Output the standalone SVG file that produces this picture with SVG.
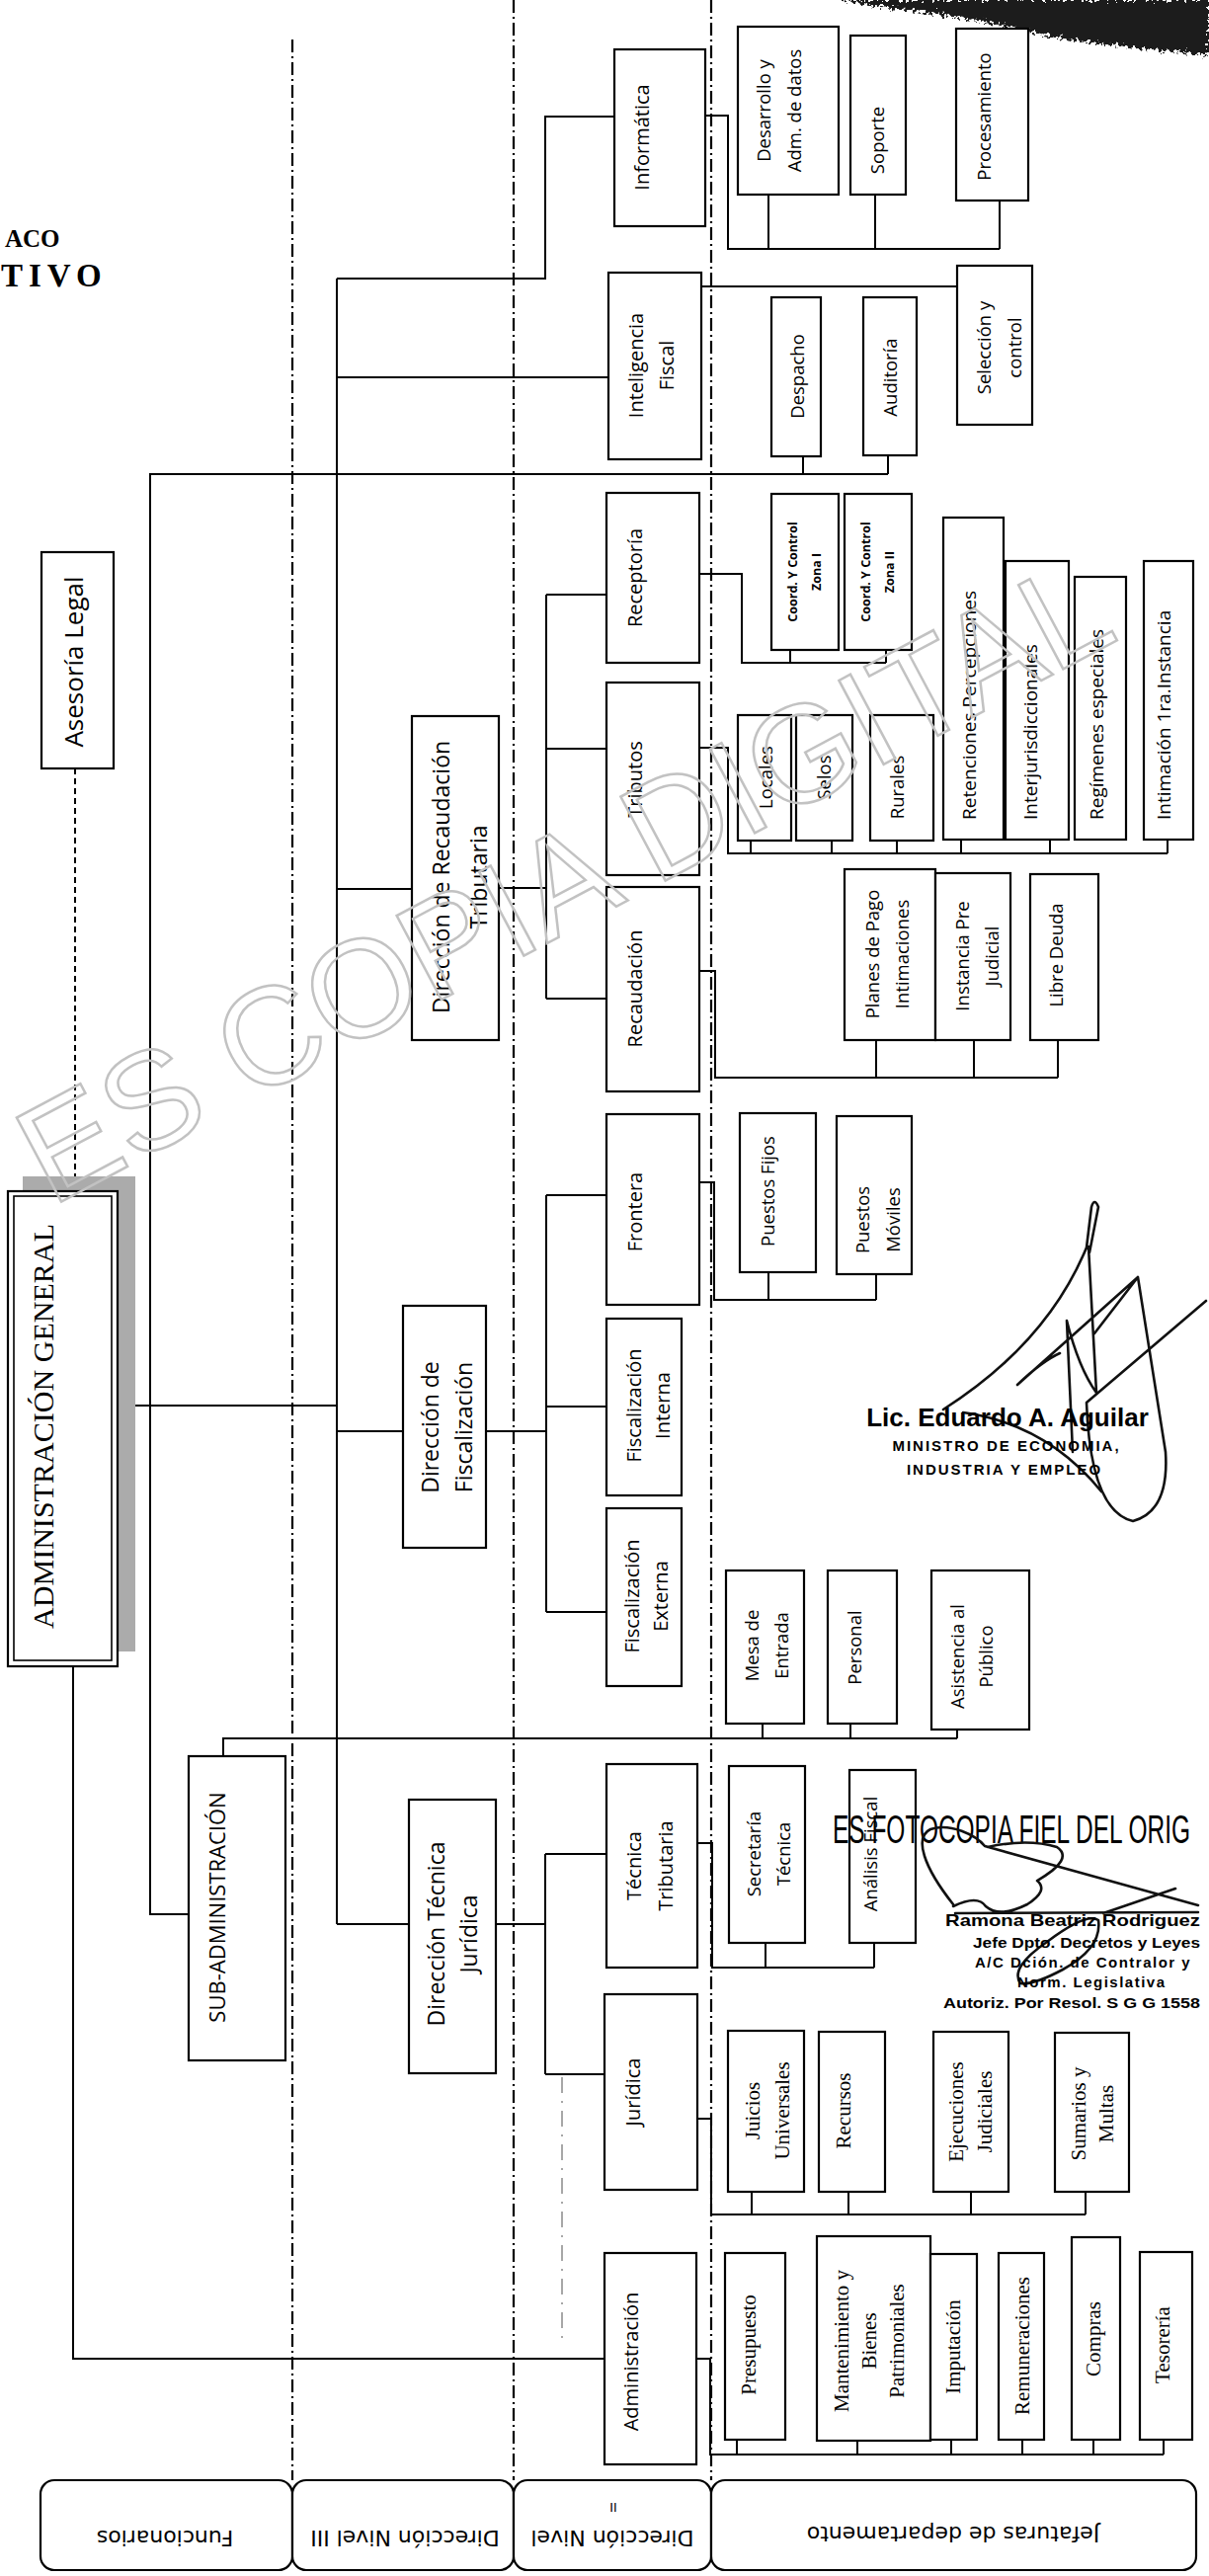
<svg xmlns="http://www.w3.org/2000/svg" width="1224" height="2608" viewBox="0 0 1224 2608">
<defs>
<style>
.b{fill:#fff;stroke:#000;stroke-width:2.2}
.c path{fill:none;stroke:#000;stroke-width:2}
.sep{fill:none;stroke:#000;stroke-width:2.2;stroke-dasharray:13 4 2 4}
.dash{stroke-dasharray:6 4}
.faint{stroke:#8a8a8a !important;stroke-width:1.5 !important;stroke-dasharray:16 8 2 8}
.s{font-family:'Open Sans',sans-serif;text-anchor:middle;dominant-baseline:central;fill:#000}
.f20{font-size:20px}
.f18{font-size:18.5px}
.f19{font-size:19px}
.f23{font-size:23px}
.co{font-size:12.5px;font-weight:bold}
.r{font-family:'Liberation Serif',serif;font-size:21px;text-anchor:middle;dominant-baseline:central;fill:#000}
.st{text-anchor:start}
.lab{font-family:'DejaVu Sans',sans-serif;font-size:22px;text-anchor:middle;dominant-baseline:central;fill:#000}
.sg{font-family:'Liberation Sans',Arial,sans-serif;font-weight:bold;fill:#000}
.sig{fill:none;stroke:#111;stroke-width:2.6;stroke-linecap:round;stroke-linejoin:round}
.wm{font-family:'Liberation Sans',Arial,sans-serif;font-size:140px;fill:none;stroke:#c2c2c2;stroke-width:2.5}
</style>
<filter id="grain" x="-10%" y="-10%" width="120%" height="140%">
<feTurbulence type="fractalNoise" baseFrequency="0.3" numOctaves="2" seed="4" result="n"/>
<feDisplacementMap in="SourceGraphic" in2="n" scale="14" xChannelSelector="R" yChannelSelector="G"/>
</filter>
</defs>
<rect width="1224" height="2608" fill="#fff"/>

<!-- scan noise top right -->
<path d="M850,0 L1224,0 L1224,56 C1190,52 1160,50 1125,45 C1090,41 1060,38 1035,30 C1000,22 960,15 910,9 C885,6 865,3 850,0 Z" fill="#1c1c1c" filter="url(#grain)"/>

<!-- title fragments -->
<text x="5" y="250" style="font-family:'Liberation Serif',serif;font-weight:bold;font-size:25px">ACO</text>
<text x="1" y="290" style="font-family:'Liberation Serif',serif;font-weight:bold;font-size:33px;letter-spacing:6px">TIVO</text>

<!-- level separators -->
<path class="sep" d="M296,40 V2511 M520,0 V2511 M720,0 V2511"/>

<g id="connectors" class="c">
<path class="dash" d="M76,778 V1191"/>
<path d="M119,1423 H341"/>
<path d="M341,282 V1948"/>
<path d="M341,282 H552 V118 H622"/>
<path d="M341,382 H616"/>
<path d="M341,900 H417 M505,899 H553"/>
<path d="M553,602 V1011 M553,602 H614 M553,758 H614 M553,1011 H614"/>
<path d="M341,1449 H408 M492,1449 H553"/>
<path d="M553,1210 V1632 M553,1210 H614 M553,1424 H614 M553,1632 H614"/>
<path d="M341,1948 H414 M502,1948 H552"/>
<path d="M552,1877 V2100 M552,1877 H614 M552,2100 H612"/>
<path d="M74,1687 V2388 H612"/>
<path d="M191,1938 H152 V480 H899 M813,480 V462 M899,480 V461"/>
<path d="M226,1778 V1760 H969 M772,1760 V1745 M861,1760 V1745 M969,1760 V1751"/>
<path d="M714,117 H737 V252 H1012 M778,252 V197 M886,252 V197 M1012,252 V203"/>
<path d="M710,290 H969"/>
<path d="M708,581 H751 V671 H897 M800,671 V658 M897,671 V658"/>
<path d="M708,757 H737 V864 H1182 M760,864 V851 M842,864 V851 M908,864 V851 M973,864 V850 M1063,864 V850 M1182,864 V850"/>
<path d="M708,983 H724 V1091 H1071 M887,1091 V1053 M986,1091 V1053 M1071,1091 V1053"/>
<path d="M708,1197 H723 V1316 H887 M778,1316 V1288 M887,1316 V1290"/>
<path d="M706,1866 H721 V1992 H885 M775,1992 V1967 M885,1992 V1967"/>
<path d="M706,2145 H720 V2242 H1099 M761,2242 V2219 M859,2242 V2219 M983,2242 V2219 M1099,2242 V2219"/>
<path d="M705,2388 H719 V2485 H1178 M746,2485 V2470 M868,2485 V2471 M963,2485 V2470 M1035,2485 V2470 M1107,2485 V2470 M1178,2485 V2470"/>
<path class="faint" d="M569,2103 V2373"/>
</g>

<!-- Column 1 -->
<g id="n-admin-general">
<rect x="23" y="1191" width="114" height="481" fill="#ababab"/>
<rect class="b" x="8" y="1206" width="111" height="481" stroke-width="2"/>
<rect x="14" y="1211" width="99" height="470" fill="none" stroke="#000" stroke-width="1.6"/>
<text class="r" style="font-size:30px" textLength="410" lengthAdjust="spacingAndGlyphs" transform="translate(43,1444) rotate(-90)">ADMINISTRACIÓN GENERAL</text>
</g>
<g id="n-asesoria">
<rect class="b" x="42" y="559" width="73" height="219"/>
<text class="s" style="font-size:26px" transform="translate(74,670) rotate(-90)">Asesoría Legal</text>
</g>
<g id="n-subadmin">
<rect class="b" x="191" y="1778" width="98" height="308"/>
<text class="s" style="font-size:22px" transform="translate(219,1931) rotate(-90)">SUB-ADMINISTRACIÓN</text>
</g>

<!-- Column 2 -->
<g id="n-dir-recaudacion">
<rect class="b" x="417" y="725" width="88" height="328"/>
<text class="s f23" transform="translate(446,888) rotate(-90)"><tspan x="0" y="0">Dirección de Recaudación</tspan><tspan x="0" y="38">Tributaria</tspan></text>
</g>
<g id="n-dir-fiscalizacion">
<rect class="b" x="408" y="1322" width="84" height="245"/>
<text class="s f23" transform="translate(435,1445) rotate(-90)"><tspan x="0" y="0">Dirección de</tspan><tspan x="0" y="34">Fiscalización</tspan></text>
</g>
<g id="n-dir-tecnica">
<rect class="b" x="414" y="1822" width="88" height="277"/>
<text class="s f23" transform="translate(441,1958) rotate(-90)"><tspan x="0" y="0">Dirección Técnica</tspan><tspan x="0" y="33">Jurídica</tspan></text>
</g>

<!-- Column 3 -->
<g id="n-informatica"><rect class="b" x="622" y="50" width="92" height="179"/>
<text class="s f20" transform="translate(649,139) rotate(-90)">Informática</text></g>
<g id="n-inteligencia"><rect class="b" x="616" y="276" width="94" height="189"/>
<text class="s f20" transform="translate(643,370) rotate(-90)"><tspan x="0" y="0">Inteligencia</tspan><tspan x="0" y="31">Fiscal</tspan></text></g>
<g id="n-receptoria"><rect class="b" x="614" y="499" width="94" height="172"/>
<text class="s f20" transform="translate(642,585) rotate(-90)">Receptoría</text></g>
<g id="n-tributos"><rect class="b" x="614" y="691" width="94" height="195"/>
<text class="s f20" transform="translate(642,789) rotate(-90)">Tributos</text></g>
<g id="n-recaudacion"><rect class="b" x="614" y="898" width="94" height="207"/>
<text class="s f20" transform="translate(642,1001) rotate(-90)">Recaudación</text></g>
<g id="n-frontera"><rect class="b" x="614" y="1128" width="94" height="193"/>
<text class="s f20" transform="translate(642,1227) rotate(-90)">Frontera</text></g>
<g id="n-fisc-interna"><rect class="b" x="614" y="1335" width="76" height="179"/>
<text class="s f20" transform="translate(641,1423) rotate(-90)"><tspan x="0" y="0">Fiscalización</tspan><tspan x="0" y="29">Interna</tspan></text></g>
<g id="n-fisc-externa"><rect class="b" x="614" y="1527" width="76" height="180"/>
<text class="s f20" transform="translate(639,1616) rotate(-90)"><tspan x="0" y="0">Fiscalización</tspan><tspan x="0" y="29">Externa</tspan></text></g>
<g id="n-tecnica-tributaria"><rect class="b" x="614" y="1786" width="92" height="206"/>
<text class="s f20" transform="translate(641,1889) rotate(-90)"><tspan x="0" y="0">Técnica</tspan><tspan x="0" y="32">Tributaria</tspan></text></g>
<g id="n-juridica"><rect class="b" x="612" y="2019" width="94" height="198"/>
<text class="s f20" transform="translate(640,2118) rotate(-90)">Jurídica</text></g>
<g id="n-administracion"><rect class="b" x="612" y="2281" width="93" height="214"/>
<text class="s f20" transform="translate(638,2391) rotate(-90)">Administración</text></g>

<!-- Column 4 -->
<g id="n-desarrollo"><rect class="b" x="747" y="27" width="102" height="170"/>
<text class="s f18" transform="translate(772,112) rotate(-90)"><tspan x="0" y="0">Desarrollo y</tspan><tspan x="0" y="31">Adm. de datos</tspan></text></g>
<g id="n-soporte"><rect class="b" x="861" y="36" width="56" height="161"/>
<text class="s f18" transform="translate(887,142) rotate(-90)">Soporte</text></g>
<g id="n-procesamiento"><rect class="b" x="968" y="29" width="73" height="174"/>
<text class="s f18" transform="translate(995,118) rotate(-90)">Procesamiento</text></g>
<g id="n-seleccion"><rect class="b" x="969" y="269" width="76" height="161"/>
<text class="s f18" transform="translate(995,352) rotate(-90)"><tspan x="0" y="0">Selección y</tspan><tspan x="0" y="31">control</tspan></text></g>
<g id="n-despacho"><rect class="b" x="781" y="301" width="50" height="161"/>
<text class="s f18" transform="translate(806,381) rotate(-90)">Despacho</text></g>
<g id="n-auditoria"><rect class="b" x="874" y="301" width="54" height="160"/>
<text class="s f18" transform="translate(900,382) rotate(-90)">Auditoría</text></g>
<g id="n-coord1"><rect class="b" x="781" y="500" width="68" height="158"/>
<text class="s co" transform="translate(802,579) rotate(-90)"><tspan x="0" y="0">Coord. Y Control</tspan><tspan x="0" y="24">Zona I</tspan></text></g>
<g id="n-coord2"><rect class="b" x="855" y="500" width="68" height="158"/>
<text class="s co" transform="translate(876,579) rotate(-90)"><tspan x="0" y="0">Coord. Y Control</tspan><tspan x="0" y="24">Zona II</tspan></text></g>
<g id="n-locales"><rect class="b" x="747" y="724" width="54" height="127"/>
<text class="s f18" transform="translate(774,787) rotate(-90)">Locales</text></g>
<g id="n-selos"><rect class="b" x="806" y="724" width="57" height="127"/>
<text class="s f18" transform="translate(833,787) rotate(-90)">Selos</text></g>
<g id="n-rurales"><rect class="b" x="881" y="724" width="64" height="127"/>
<text class="s f18" transform="translate(907,797) rotate(-90)">Rurales</text></g>
<g id="n-retenciones"><rect class="b" x="955" y="524" width="61" height="326"/>
<text class="s f19 st" textLength="232" lengthAdjust="spacingAndGlyphs" transform="translate(981,830) rotate(-90)">Retenciones Percepciones</text></g>
<g id="n-interjur"><rect class="b" x="1018" y="568" width="64" height="282"/>
<text class="s f19 st" transform="translate(1043,830) rotate(-90)">Interjurisdiccionales</text></g>
<g id="n-regimenes"><rect class="b" x="1088" y="584" width="52" height="266"/>
<text class="s f19 st" transform="translate(1110,830) rotate(-90)">Regímenes especiales</text></g>
<g id="n-intimacion"><rect class="b" x="1158" y="568" width="50" height="282"/>
<text class="s f19 st" transform="translate(1178,830) rotate(-90)">Intimación 1ra.Instancia</text></g>
<g id="n-planes"><rect class="b" x="855" y="880" width="92" height="173"/>
<text class="s f18" transform="translate(882,966) rotate(-90)"><tspan x="0" y="0">Planes de Pago</tspan><tspan x="0" y="30">Intimaciones</tspan></text></g>
<g id="n-instancia"><rect class="b" x="947" y="884" width="76" height="169"/>
<text class="s f18" transform="translate(973,968) rotate(-90)"><tspan x="0" y="0">Instancia Pre</tspan><tspan x="0" y="30">Judicial</tspan></text></g>
<g id="n-libre"><rect class="b" x="1043" y="885" width="69" height="168"/>
<text class="s f18" transform="translate(1068,967) rotate(-90)">Libre Deuda</text></g>
<g id="n-pfijos"><rect class="b" x="749" y="1127" width="77" height="161"/>
<text class="s f18" transform="translate(776,1206) rotate(-90)">Puestos Fijos</text></g>
<g id="n-pmoviles"><rect class="b" x="847" y="1130" width="76" height="160"/>
<text class="s f18" transform="translate(872,1235) rotate(-90)"><tspan x="0" y="0">Puestos</tspan><tspan x="0" y="31">Móviles</tspan></text></g>
<g id="n-mesa"><rect class="b" x="735" y="1590" width="79" height="155"/>
<text class="s f18" transform="translate(760,1666) rotate(-90)"><tspan x="0" y="0">Mesa de</tspan><tspan x="0" y="30">Entrada</tspan></text></g>
<g id="n-personal"><rect class="b" x="838" y="1590" width="70" height="155"/>
<text class="s f18" transform="translate(864,1668) rotate(-90)">Personal</text></g>
<g id="n-asistencia"><rect class="b" x="943" y="1590" width="99" height="161"/>
<text class="s f18" transform="translate(968,1677) rotate(-90)"><tspan x="0" y="0">Asistencia al</tspan><tspan x="0" y="29">Público</tspan></text></g>
<g id="n-secretaria"><rect class="b" x="738" y="1788" width="77" height="179"/>
<text class="s f18" transform="translate(762,1877) rotate(-90)"><tspan x="0" y="0">Secretaría</tspan><tspan x="0" y="30">Técnica</tspan></text></g>
<g id="n-analisis"><rect class="b" x="860" y="1792" width="67" height="175"/>
<text class="s f18" transform="translate(880,1877) rotate(-90)">Análisis Fiscal</text></g>
<g id="n-juicios"><rect class="b" x="737" y="2056" width="77" height="163"/>
<text class="r" transform="translate(762,2137) rotate(-90)"><tspan x="0" y="0">Juicios</tspan><tspan x="0" y="30">Universales</tspan></text></g>
<g id="n-recursos"><rect class="b" x="829" y="2057" width="67" height="162"/>
<text class="r" transform="translate(854,2137) rotate(-90)">Recursos</text></g>
<g id="n-ejecuciones"><rect class="b" x="945" y="2057" width="76" height="162"/>
<text class="r" transform="translate(968,2138) rotate(-90)"><tspan x="0" y="0">Ejecuciones</tspan><tspan x="0" y="29">Judiciales</tspan></text></g>
<g id="n-sumarios"><rect class="b" x="1068" y="2058" width="75" height="161"/>
<text class="r" transform="translate(1092,2140) rotate(-90)"><tspan x="0" y="0">Sumarios y</tspan><tspan x="0" y="28">Multas</tspan></text></g>
<g id="n-presupuesto"><rect class="b" x="734" y="2281" width="61" height="189"/>
<text class="r" transform="translate(758,2374) rotate(-90)">Presupuesto</text></g>
<g id="n-mantenimiento"><rect class="b" x="827" y="2264" width="115" height="207"/>
<text class="r" transform="translate(852,2370) rotate(-90)"><tspan x="0" y="0">Mantenimiento y</tspan><tspan x="0" y="28">Bienes</tspan><tspan x="0" y="56">Patrimoniales</tspan></text></g>
<g id="n-imputacion"><rect class="b" x="942" y="2282" width="47" height="188"/>
<text class="r" transform="translate(965,2376) rotate(-90)">Imputación</text></g>
<g id="n-remuneraciones"><rect class="b" x="1011" y="2281" width="46" height="189"/>
<text class="r" transform="translate(1035,2375) rotate(-90)">Remuneraciones</text></g>
<g id="n-compras"><rect class="b" x="1085" y="2265" width="49" height="205"/>
<text class="r" transform="translate(1107,2368) rotate(-90)">Compras</text></g>
<g id="n-tesoreria"><rect class="b" x="1154" y="2280" width="53" height="190"/>
<text class="r" transform="translate(1177,2374) rotate(-90)">Tesorería</text></g>

<!-- level labels -->
<g id="labels">
<rect class="b" x="41" y="2511" width="255" height="91" rx="14"/>
<rect class="b" x="296" y="2511" width="224" height="91" rx="14"/>
<rect class="b" x="520" y="2511" width="200" height="91" rx="14"/>
<rect class="b" x="720" y="2511" width="491" height="91" rx="14"/>
<text class="lab" transform="translate(167,2569) rotate(180)">Funcionarios</text>
<text class="lab" transform="translate(410,2569) rotate(180)">Dirección Nivel III</text>
<text class="lab" transform="translate(620,2569) rotate(180)">Dirección Nivel</text>
<text class="lab" style="font-size:13px" transform="translate(621,2538) rotate(180)">II</text>
<text class="lab" transform="translate(965,2565) rotate(180)">Jefaturas de departamento</text>
</g>

<!-- watermark -->
<text class="wm" transform="translate(52,1222) rotate(-28)">ES COPIA DIGITAL</text>

<!-- signature 1 -->
<g id="firma-aguilar">
<path class="sig" d="M955,1427 Q1060,1360 1100,1263 L1105,1222 Q1108,1212 1112,1222 L1103,1268 M1102,1262 L1110,1410 M1080,1337 L1086,1470 M1080,1337 Q1092,1385 1110,1410 M1030,1402 L1152,1293 M1030,1402 Q1055,1378 1073,1370 M1108,1350 L1152,1293 L1180,1470 Q1184,1530 1147,1540 Q1104,1530 1100,1420 L1221,1317 M975,1430 Q1060,1442 1115,1510"/>
<text class="sg" x="1020" y="1444" text-anchor="middle" style="font-size:26px">Lic. Eduardo A. Aguilar</text>
<text class="sg" x="1019" y="1469" text-anchor="middle" style="font-size:15px;letter-spacing:2px">MINISTRO DE ECONOMIA,</text>
<text class="sg" x="1017" y="1493" text-anchor="middle" style="font-size:15px;letter-spacing:2px">INDUSTRIA Y EMPLEO</text>
</g>

<!-- stamp and signature 2 -->
<g id="sello">
<text x="843" y="1866" textLength="362" lengthAdjust="spacingAndGlyphs" style="font-family:'Liberation Sans',Arial,sans-serif;font-size:40px;fill:#000">ES FOTOCOPIA FIEL DEL ORIG</text>
<path class="sig" d="M965,1928 C935,1890 925,1860 942,1852 C962,1845 988,1858 997,1869 L1213,1929 M965,1930 Q990,1918 998,1930 Q1012,1942 1040,1928 Q1062,1914 1050,1904 Q1088,1882 1070,1870 Q1040,1861 1000,1870 M967,1937 L1213,1936 M1033,2008 Q1022,1992 1060,1966 Q1100,1936 1112,1944 Q1116,1972 1076,1994 Q1046,2010 1033,2008 M1117,1937 L1190,1912"/>
<text class="sg" x="957" y="1950" textLength="258" lengthAdjust="spacingAndGlyphs" style="font-size:17px">Ramona Beatriz Rodriguez</text>
<text class="sg" x="985" y="1972" textLength="230" lengthAdjust="spacingAndGlyphs" style="font-size:15px">Jefe Dpto. Decretos y Leyes</text>
<text class="sg" x="987" y="1992" style="font-size:15px;letter-spacing:1.5px">A/C Dción. de Contralor y</text>
<text class="sg" x="1030" y="2012" style="font-size:15px;letter-spacing:1.5px">Norm. Legislativa</text>
<text class="sg" x="955" y="2033" textLength="260" lengthAdjust="spacingAndGlyphs" style="font-size:15px">Autoriz. Por Resol. S G G 1558</text>
</g>
</svg>
